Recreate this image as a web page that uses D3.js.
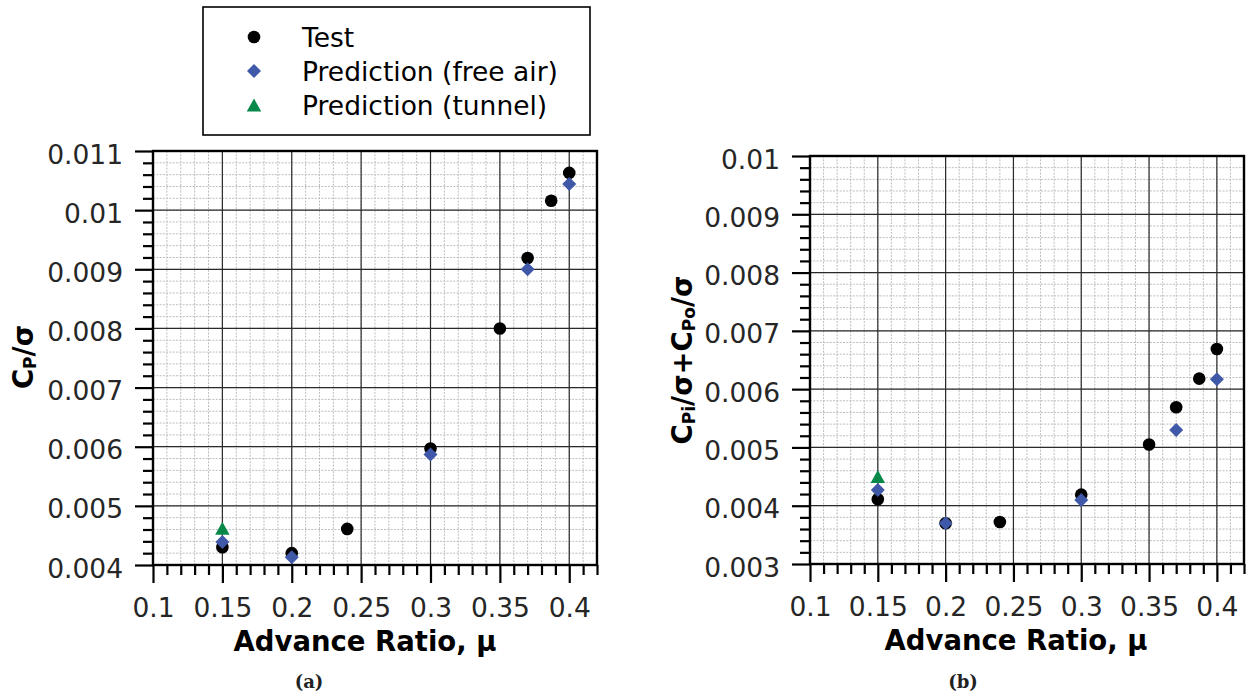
<!DOCTYPE html>
<html>
<head>
<meta charset="utf-8">
<script src="https://cdn.jsdelivr.net/npm/d3@7"></script>
<style>
  html, body { margin: 0; padding: 0; background: #fff; }
  svg { display: block; }
</style>
</head>
<body>
<svg id="chart" width="1250" height="700"></svg>
<script>
// ---------------- DATA ----------------
const xTicks = [0.1, 0.15, 0.2, 0.25, 0.3, 0.35, 0.4];
const yTicksA = [0.004, 0.005, 0.006, 0.007, 0.008, 0.009, 0.01, 0.011];
const yTicksB = [0.003, 0.004, 0.005, 0.006, 0.007, 0.008, 0.009, 0.01];

const testMu   = [0.15, 0.2, 0.24, 0.3, 0.35, 0.37, 0.387, 0.4];
const freeMu   = [0.15, 0.2, 0.3, 0.37, 0.4];
const tunnelMu = [0.15];

// Panel (a): Cp/sigma
const testA   = [0.0043, 0.0042, 0.00461, 0.00597, 0.0080, 0.00919, 0.01016, 0.01063];
const freeA   = [0.00439, 0.00413, 0.00587, 0.0090, 0.01044];
const tunnelA = [0.00462];

// Panel (b): Cpi/sigma + Cpo/sigma
const testB   = [0.00411, 0.0037, 0.00372, 0.00419, 0.00505, 0.00569, 0.00618, 0.00669];
const freeB   = [0.00427, 0.0037, 0.0041, 0.0053, 0.00617];
const tunnelB = [0.0045];

const legendLabels = ["Test", "Prediction (free air)", "Prediction (tunnel)"];
const xLabel = "Advance Ratio, μ";

// ---------------- STYLE ----------------
const COL_TEST = "#000000";
const COL_FREE = "#3f58a8";
const COL_TUN  = "#08894a";
const TICK_FONT = "26.5px 'DejaVu Sans'";

const svg = d3.select("#chart");

function zip(xs, ys) { return xs.map((x, i) => ({x, y: ys[i]})); }

function minorRange(a, b, step) {
  const n = Math.round((b - a) / step);
  return d3.range(n + 1).map(i => +(a + i * step).toFixed(6));
}

const sym = {
  circle: d3.symbol().type(d3.symbolCircle).size(Math.PI * 6.3 * 6.3),
};
function diamondPath(s) { return `M0,${-s}L${s},0L0,${s}L${-s},0Z`; }
function trianglePath(w, h) { return `M0,${-h/2}L${w/2},${h/2}L${-w/2},${h/2}Z`; }

function drawPanel(cfg) {
  const g = svg.append("g");
  const x = d3.scaleLinear().domain([0.1, 0.42]).range([cfg.left, cfg.right]);
  const y = d3.scaleLinear().domain(cfg.yDomain).range([cfg.bottom, cfg.top]);

  const xMinor = minorRange(0.1, 0.42, 0.01);
  const yMinor = minorRange(cfg.yDomain[0], cfg.yDomain[1], 0.0002);

  // minor grid
  const gm = g.append("g");
  gm.selectAll("line.vx").data(xMinor).join("line")
    .attr("x1", d => x(d)).attr("x2", d => x(d))
    .attr("y1", cfg.top).attr("y2", cfg.bottom);
  gm.selectAll("line.hy").data(yMinor).join("line")
    .attr("x1", cfg.left).attr("x2", cfg.right)
    .attr("y1", d => y(d)).attr("y2", d => y(d));
  gm.selectAll("line").attr("stroke", "#bdbdbd").attr("stroke-width", 1)
    .attr("stroke-dasharray", "2,1.3");

  // major grid
  const gM = g.append("g");
  gM.selectAll("line.vx").data(xTicks).join("line")
    .attr("x1", d => x(d)).attr("x2", d => x(d))
    .attr("y1", cfg.top).attr("y2", cfg.bottom);
  gM.selectAll("line.hy").data(cfg.yTicks).join("line")
    .attr("x1", cfg.left).attr("x2", cfg.right)
    .attr("y1", d => y(d)).attr("y2", d => y(d));
  gM.selectAll("line").attr("stroke", "#2a2a2a").attr("stroke-width", 1.2);

  // data
  g.append("g").selectAll("path").data(zip(testMu, cfg.test)).join("path")
    .attr("d", sym.circle)
    .attr("transform", d => `translate(${x(d.x)},${y(d.y)})`)
    .attr("fill", COL_TEST);
  g.append("g").selectAll("path").data(zip(freeMu, cfg.free)).join("path")
    .attr("d", diamondPath(7))
    .attr("transform", d => `translate(${x(d.x)},${y(d.y)})`)
    .attr("fill", COL_FREE);
  g.append("g").selectAll("path").data(zip(tunnelMu, cfg.tunnel)).join("path")
    .attr("d", trianglePath(14.5, 13))
    .attr("transform", d => `translate(${x(d.x)},${y(d.y)})`)
    .attr("fill", COL_TUN);

  // axes: major ticks with labels
  const fmt = d3.format("~g");
  const xa = g.append("g").attr("transform", `translate(0,${cfg.bottom})`)
    .call(d3.axisBottom(x).tickValues(xTicks).tickSize(18).tickFormat(fmt));
  const xm = g.append("g").attr("transform", `translate(0,${cfg.bottom})`)
    .call(d3.axisBottom(x).tickValues(xMinor.filter(v => !xTicks.some(t => Math.abs(t - v) < 1e-9))).tickSize(10).tickFormat(""));
  const ya = g.append("g").attr("transform", `translate(${cfg.left},0)`)
    .call(d3.axisLeft(y).tickValues(cfg.yTicks).tickSize(18).tickFormat(fmt));
  const ym = g.append("g").attr("transform", `translate(${cfg.left},0)`)
    .call(d3.axisLeft(y).tickValues(yMinor.filter(v => !cfg.yTicks.some(t => Math.abs(t - v) < 1e-9))).tickSize(10).tickFormat(""));

  [xa, xm, ya, ym].forEach(a => {
    a.select(".domain").remove();
    a.selectAll(".tick line").attr("stroke", "#000").attr("stroke-width", 2.2);
  });
  xa.selectAll(".tick text")
    .attr("y", 52).attr("dy", 0)
    .style("font", TICK_FONT).attr("fill", "#262626");
  ya.selectAll(".tick text")
    .attr("x", -30).attr("y", 12).attr("dy", 0)
    .style("font", TICK_FONT).attr("fill", "#262626");

  // spines
  g.append("rect")
    .attr("x", cfg.left).attr("y", cfg.top)
    .attr("width", cfg.right - cfg.left).attr("height", cfg.bottom - cfg.top)
    .attr("fill", "none").attr("stroke", "#000").attr("stroke-width", 2.4);

  // x label
  g.append("text")
    .attr("x", cfg.xLabelX).attr("y", cfg.bottom + 86)
    .attr("text-anchor", "middle")
    .style("font", "bold 27.5px 'DejaVu Sans'")
    .attr("fill", "#000")
    .text(xLabel);

  // y label (rotated, with subscripts)
  const yl = g.append("text")
    .attr("transform", `translate(${cfg.yLabelX},${cfg.yLabelY}) rotate(-90)`)
    .attr("text-anchor", "middle")
    .style("font", "bold 27.5px 'DejaVu Sans'")
    .attr("fill", "#000");
  cfg.yLabelParts.forEach(p => {
    const t = yl.append("tspan").text(p.t);
    if (p.sub) t.attr("font-size", "17px").attr("dy", 3);
    else if (p.after) t.attr("dy", -3);
  });

  // panel caption
  g.append("text")
    .attr("x", cfg.capX).attr("y", 688)
    .attr("text-anchor", "middle")
    .style("font", "bold 18px 'DejaVu Serif'")
    .attr("fill", "#222")
    .text(cfg.caption);
}

drawPanel({
  left: 153, right: 597, top: 151, bottom: 565,
  yDomain: [0.004, 0.011], yTicks: yTicksA,
  test: testA, free: freeA, tunnel: tunnelA,
  xLabelX: 365, yLabelX: 33, yLabelY: 357, capX: 309, caption: "(a)",
  yLabelParts: [{t: "C"}, {t: "P", sub: true}, {t: "/σ", after: true}]
});

drawPanel({
  left: 810, right: 1244, top: 156, bottom: 564,
  yDomain: [0.003, 0.01], yTicks: yTicksB,
  test: testB, free: freeB, tunnel: tunnelB,
  xLabelX: 1016, yLabelX: 692, yLabelY: 360, capX: 963, caption: "(b)",
  yLabelParts: [{t: "C"}, {t: "Pi", sub: true}, {t: "/σ+C", after: true},
                {t: "Po", sub: true}, {t: "/σ", after: true}]
});

// ---------------- LEGEND ----------------
const lg = svg.append("g");
lg.append("rect").attr("x", 203).attr("y", 7).attr("width", 387).attr("height", 128)
  .attr("fill", "#fff").attr("stroke", "#000").attr("stroke-width", 1.6);
const rows = [
  {label: legendLabels[0], d: sym.circle(), c: COL_TEST},
  {label: legendLabels[1], d: diamondPath(7), c: COL_FREE},
  {label: legendLabels[2], d: trianglePath(14.5, 13), c: COL_TUN}
];
const rowY = d3.scalePoint().domain(d3.range(rows.length)).range([37, 105]);
rows.forEach((r, i) => {
  lg.append("path").attr("d", r.d).attr("fill", r.c)
    .attr("transform", `translate(254,${rowY(i)})`);
  lg.append("text").attr("x", 302).attr("y", rowY(i) + 10)
    .style("font", "26.5px 'DejaVu Sans'").attr("fill", "#000").text(r.label);
});
</script>
</body>
</html>
